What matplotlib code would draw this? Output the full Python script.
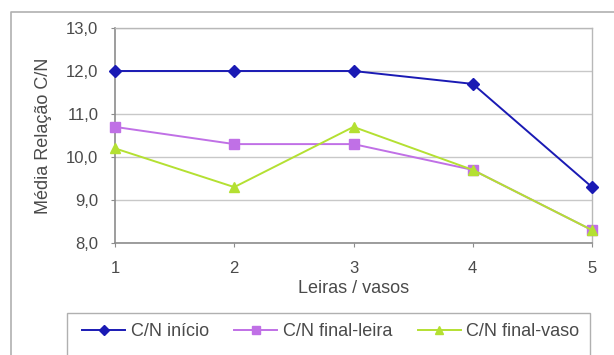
import matplotlib
matplotlib.use("Agg")
import matplotlib.pyplot as plt
from matplotlib.lines import Line2D
from matplotlib.patches import Rectangle

plt.rcParams["font.family"] = ["Liberation Sans", "DejaVu Sans"]

leiras = [1, 2, 3, 4, 5]
cn_inicio = [12.0, 12.0, 12.0, 11.7, 9.3]
cn_final_leira = [10.7, 10.3, 10.3, 9.7, 8.3]
cn_final_vaso = [10.2, 9.3, 10.7, 9.7, 8.3]
y_ticks = [8.0, 9.0, 10.0, 11.0, 12.0, 13.0]

txt = "#4a4a4a"
W, H = 614, 355

fig = plt.figure(figsize=(W / 100, H / 100), dpi=100)
fig.patch.set_facecolor("white")

# outer chart-area border
fig.add_artist(Line2D([11 / W, 11 / W, 1.0], [0.0, 1 - 12 / H, 1 - 12 / H],
                      transform=fig.transFigure, color="#b0b0b0", lw=1.2))

ax = fig.add_axes([115 / W, 1 - 243 / H, (592 - 115) / W, (243 - 28) / H])
ax.plot(leiras, cn_inicio, color="#1a1ab4", marker="D", ms=6, lw=1.4,
        label="C/N início", clip_on=False, zorder=5)
ax.plot(leiras, cn_final_leira, color="#c070e6", marker="s", ms=7, lw=1.4,
        label="C/N final-leira", clip_on=False, zorder=4)
ax.plot(leiras, cn_final_vaso, color="#b4e032", marker="^", ms=7, lw=1.4,
        label="C/N final-vaso", clip_on=False, zorder=4)

ax.set_xlim(1, 5)
ax.set_ylim(8, 13)
ax.set_xticks(leiras)
ax.set_yticks(y_ticks)
ax.set_yticklabels([f"{v:.1f}".replace(".", ",") for v in y_ticks])
ax.yaxis.grid(True, color="#c8c8c8", lw=1.0)
ax.set_axisbelow(True)
for s in ("left", "bottom"):
    ax.spines[s].set_color("#8c8c8c")
    ax.spines[s].set_linewidth(1.2)
for s in ("top", "right"):
    ax.spines[s].set_color("#b8b8b8")
    ax.spines[s].set_linewidth(1.0)
ax.tick_params(axis="both", colors="#8c8c8c", labelcolor=txt, labelsize=12,
               length=3, direction="out")
ax.tick_params(axis="y", pad=9)
ax.tick_params(axis="x", pad=10)
ax.set_xlabel("Leiras / vasos", fontsize=13, color=txt, labelpad=3)
ax.set_ylabel("Média Relação C/N", fontsize=13, color=txt, labelpad=10)

# legend frame drawn separately (runs off the bottom edge)
fig.add_artist(Rectangle((67 / W, -0.05), (590 - 67) / W, 1 - 313 / H + 0.05,
                         transform=fig.transFigure, fill=False,
                         edgecolor="#b0b0b0", lw=1.0))
leg = fig.legend(loc="center left", ncol=3, frameon=False,
                 bbox_to_anchor=(82 / W, 1 - 332 / H),
                 fontsize=13, borderpad=0, borderaxespad=0,
                 handlelength=2.4, handletextpad=0.3, columnspacing=1.4,
                 markerscale=0.85)
for t in leg.get_texts():
    t.set_color(txt)

fig.savefig("out.png", dpi=100)
